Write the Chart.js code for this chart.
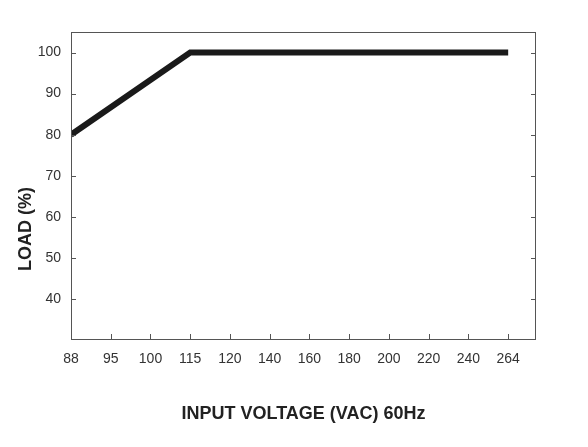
<!DOCTYPE html>
<html>
<head>
<meta charset="utf-8">
<script src="https://cdn.jsdelivr.net/npm/chart.js@4"></script>
<style>
  html, body { margin: 0; padding: 0; background: #fff; }
  #wrap { width: 588px; height: 447px; }
</style>
</head>
<body>
<div id="wrap"><canvas id="derating"></canvas></div>
<script>
const voltageLabels = ["88", "95", "100", "115", "120", "140", "160", "180", "200", "220", "240", "264"];
const curveIndex = [0, 3, 11];
const curveLoad = [80, 100, 100];
const loadTicks = [40, 50, 60, 70, 80, 90, 100];

const axisColor = "#555";

// frame + inward tick marks + y title
const frameTicks = {
  id: "frameTicks",
  afterDraw(chart) {
    const { ctx, chartArea: a, scales: { x, y } } = chart;
    ctx.save();
    ctx.strokeStyle = axisColor;
    ctx.lineWidth = 1;
    ctx.strokeRect(a.left + 0.5, a.top + 0.5, a.right - a.left - 1, a.bottom - a.top - 1);
    ctx.beginPath();
    loadTicks.forEach((v) => {
      const py = Math.round(y.getPixelForValue(v)) + 0.5;
      ctx.moveTo(a.left, py); ctx.lineTo(a.left + 5, py);
      ctx.moveTo(a.right, py); ctx.lineTo(a.right - 5, py);
    });
    voltageLabels.forEach((l, i) => {
      const px = Math.round(x.getPixelForValue(i)) + 0.5;
      ctx.moveTo(px, a.bottom); ctx.lineTo(px, a.bottom - 6);
    });
    ctx.stroke();

    ctx.translate(26, y.getPixelForValue(57));
    ctx.rotate(-Math.PI / 2);
    ctx.fillStyle = "#222";
    ctx.font = "bold 18px 'Liberation Sans'";
    ctx.textAlign = "center";
    ctx.textBaseline = "middle";
    ctx.fillText("LOAD (%)", 0, 0);
    ctx.restore();
  },
};

new Chart(document.getElementById("derating"), {
  type: "line",
  data: {
    datasets: [{
      data: curveIndex.map((v, i) => ({ x: v, y: curveLoad[i] })),
      borderColor: "#1a1a1a",
      borderWidth: 6,
      pointRadius: 0,
      tension: 0,
    }],
  },
  options: {
    responsive: true,
    maintainAspectRatio: false,
    animation: false,
    layout: { padding: { left: 8, right: 52, top: 32, bottom: 18 } },
    plugins: { legend: { display: false }, tooltip: { enabled: false } },
    scales: {
      x: {
        type: "linear",
        min: 0,
        max: 11.7,
        afterBuildTicks(s) { s.ticks = voltageLabels.map((l, i) => ({ value: i })); },
        afterFit(s) { s.height = 89; },
        grid: { display: false },
        border: { display: false },
        ticks: {
          color: "#333",
          font: { family: "Liberation Sans", size: 14 },
          padding: 3,
          maxRotation: 0,
          callback: (v) => voltageLabels[v],
        },
        title: {
          display: true,
          text: "INPUT VOLTAGE (VAC) 60Hz",
          color: "#222",
          font: { family: "Liberation Sans", size: 18, weight: "bold" },
          padding: { top: 20 },
        },
      },
      y: {
        min: 30,
        max: 105,
        afterBuildTicks(s) { s.ticks = loadTicks.map((v) => ({ value: v })); },
        afterFit(s) { s.width = 63; },
        grid: { display: false },
        border: { display: false },
        ticks: {
          color: "#333",
          font: { family: "Liberation Sans", size: 14 },
          padding: 2,
        },
      },
    },
  },
  plugins: [frameTicks],
});
</script>
</body>
</html>
